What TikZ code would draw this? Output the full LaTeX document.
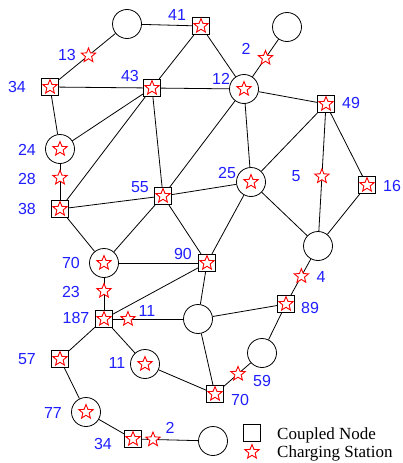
\documentclass[tikz,border=0pt]{standalone}
\usepackage{fontspec}
\setmainfont{Liberation Serif}
\newfontfamily\labfont{Liberation Sans}
\usetikzlibrary{shapes.geometric,calc}
\pgfdeclarelayer{bg}
\pgfsetlayers{bg,main}
\definecolor{lblue}{RGB}{30,30,255}
\begin{document}
\begin{tikzpicture}[x=1pt,y=-1pt,
 cnode/.style={circle,draw,line width=0.8pt,minimum size=29pt,inner sep=0pt,fill=white},
 snode/.style={rectangle,draw,line width=0.9pt,minimum size=17pt,inner sep=0pt,fill=white},
 cstar/.style={star,star points=5,star point ratio=2.3,draw=red,line width=0.9pt,fill=white,minimum size=15pt,inner sep=0pt},
 lab/.style={text=lblue,font=\labfont\fontsize{16}{18}\selectfont,inner sep=0pt},
 legtext/.style={font=\fontsize{17}{19}\selectfont,inner sep=0pt,anchor=base west},
 edge/.style={line width=0.8pt}]
\useasboundingbox (0,0) rectangle (402,463);
% network nodes
\node[cnode] (cT) at (127,24) {};
\node[snode] (n41) at (201,26) {};
\node[cnode] (cR) at (287,27) {};
\node[snode] (n34) at (50,87) {};
\node[snode] (n43) at (152,88) {};
\node[cnode] (n12) at (244,89) {};
\node[snode] (n49) at (326,104) {};
\node[cnode] (n24) at (60,149) {};
\node[cnode] (n25) at (251,182) {};
\node[snode] (n16) at (367,185) {};
\node[snode] (n55) at (163,196) {};
\node[snode] (n38) at (60,209) {};
\node[cnode] (c4) at (318,246) {};
\node[cnode] (n70) at (104,263) {};
\node[snode] (n90) at (207,263) {};
\node[snode] (n89) at (286,304) {};
\node[snode] (n187) at (104,319) {};
\node[cnode] (cM) at (198,319) {};
\node[cnode] (c59) at (262,353) {};
\node[cnode] (n11) at (145,364) {};
\node[snode] (n57) at (60,359) {};
\node[snode] (n70b) at (215,394) {};
\node[cnode] (n77) at (86,412) {};
\node[snode] (n34b) at (133,439) {};
\node[cnode] (cB) at (213,441) {};
% stars inside nodes
\foreach \n in {n41,n34,n43,n12,n49,n24,n25,n16,n55,n38,n70,n90,n89,n187,n11,n57,n70b,n77,n34b}
  \node[cstar] (s\n) at (\n.center) {};
% edges
\begin{pgfonlayer}{bg}
\draw[edge] (cT) -- (n41);
\draw[edge] (cT) -- (n34);
\draw[edge] (n41) -- (n43);
\draw[edge] (n41) -- (n12);
\draw[edge] (cR) -- (n12);
\draw[edge] (n34) -- (n43);
\draw[edge] (n34) -- (n24);
\draw[edge] (n43) -- (n12);
\draw[edge] (n43) -- (n24);
\draw[edge] (n43) -- (n38);
\draw[edge] (n43) -- (n55);
\draw[edge] (n12) -- (n49);
\draw[edge] (n12) -- (n55);
\draw[edge] (n12) -- (n25);
\draw[edge] (n49) -- (n25);
\draw[edge] (n49) -- (c4);
\draw[edge] (n49) -- (n16);
\draw[edge] (n16) -- (c4);
\draw[edge] (n24) -- (n38);
\draw[edge] (n38) -- (n55);
\draw[edge] (n55) -- (n25);
\draw[edge] (n38) -- (n70);
\draw[edge] (n55) -- (n70);
\draw[edge] (n55) -- (n90);
\draw[edge] (n25) -- (n90);
\draw[edge] (n25) -- (c4);
\draw[edge] (n70) -- (n90);
\draw[edge] (n70) -- (n187);
\draw[edge] (n90) -- (n187);
\draw[edge] (n90) -- (cM);
\draw[edge] (n187) -- (cM);
\draw[edge] (c4) -- (n89);
\draw[edge] (cM) -- (n89);
\draw[edge] (cM) -- (n70b);
\draw[edge] (n89) -- (c59);
\draw[edge] (c59) -- (n70b);
\draw[edge] (n187) -- (n11);
\draw[edge] (n11) -- (n70b);
\draw[edge] (n187) -- (n57);
\draw[edge] (n57) -- (n77);
\draw[edge] (n77) -- (n34b);
\draw[edge] (n34b) -- (cB);
\end{pgfonlayer}
% charging stations on lines
\node[cstar] (st13) at ($(cT)!0.5!(n34)$) {};
\node[cstar] (st2a) at ($(cR)!0.5!(n12)$) {};
\node[cstar] (st28) at ($(n24)!0.48!(n38)$) {};
\node[cstar] (st5) at ($(n49)!0.51!(c4)$) {};
\node[cstar] (st4) at ($(c4)!0.52!(n89)$) {};
\node[cstar] (st23) at ($(n70)!0.5!(n187)$) {};
\node[cstar] (st11) at ($(n187)!0.255!(cM)$) {};
\node[cstar] (st59) at ($(c59)!0.51!(n70b)$) {};
\node[cstar] (st2b) at ($(n34b)!0.25!(cB)$) {};
% labels
\node[lab] (l41) at (177,15) {41};
\node[lab] (l13) at (67,55) {13};
\node[lab] (l34) at (17,87) {34};
\node[lab] (l43) at (130,76) {43};
\node[lab] (l2a) at (246,49) {2};
\node[lab] (l12) at (221,79) {12};
\node[lab] (l49) at (351,103) {49};
\node[lab] (l24) at (27,150) {24};
\node[lab] (l28) at (27,179) {28};
\node[lab] (l38) at (27,209) {38};
\node[lab] (l55) at (140,187) {55};
\node[lab] (l25) at (227,173) {25};
\node[lab] (l5) at (296,176) {5};
\node[lab] (l16) at (392,186) {16};
\node[lab] (l70) at (71,263) {70};
\node[lab] (l90) at (183,254) {90};
\node[lab] (l23) at (71,292) {23};
\node[lab] (l4) at (321,277) {4};
\node[lab] (l89) at (310,308) {89};
\node[lab] (l187) at (76,318) {187};
\node[lab] (l11a) at (147,311) {11};
\node[lab] (l57) at (27,359) {57};
\node[lab] (l11b) at (117,363) {11};
\node[lab] (l59) at (262,381) {59};
\node[lab] (l77) at (53,413) {77};
\node[lab] (l70b) at (240,400) {70};
\node[lab] (l34b) at (103,444) {34};
\node[lab] (l2b) at (170,428) {2};
% legend
\node[snode] (legsq) at (252,433) {};
\node[cstar] (legst) at (252,452) {};
\node[legtext] (legt1) at (277,439) {Coupled Node};
\node[legtext] (legt2) at (277,457) {Charging Station};
\end{tikzpicture}
\end{document}
